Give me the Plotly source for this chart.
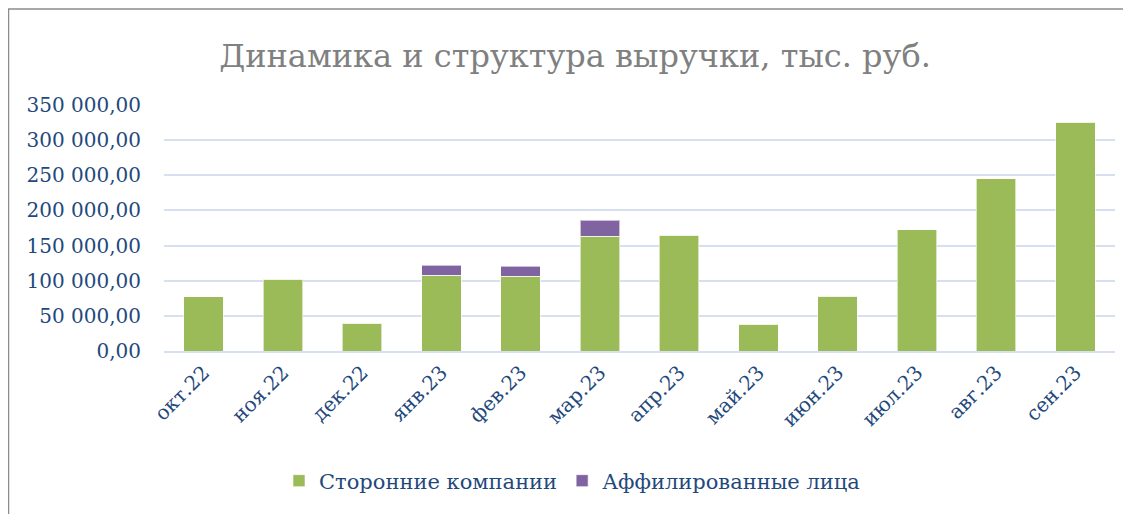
import plotly.graph_objects as go

months = ["окт.22", "ноя.22", "дек.22", "янв.23", "фев.23", "мар.23",
          "апр.23", "май.23", "июн.23", "июл.23", "авг.23", "сен.23"]
third_party = [77200, 102400, 39800, 108100, 106700, 163100,
               165000, 38400, 78200, 172600, 245100, 325700]
affiliated = [0, 0, 0, 14200, 13700, 22800, 0, 0, 0, 0, 0, 0]
y_ticks = [0, 50000, 100000, 150000, 200000, 250000, 300000, 350000]

W, H = 1131, 514
OFF = 8  # page body margin offset
L, R, T, B = 164 - OFF, 16 + OFF, 105 - OFF, 163 + OFF
pw, ph = W - L - R, H - T - B

def px_x(p):
    return (p - OFF - L) / pw

def px_y(p):
    return (H - B - (p - OFF)) / ph

FONT = "DejaVu Serif"
TXT = "#1F497D"

fig = go.Figure()
fig.add_trace(go.Bar(x=months, y=third_party, name="Сторонние компании",
                     marker=dict(color="#9BBB59", line=dict(color="rgba(255,255,255,0.6)", width=1))))
fig.add_trace(go.Bar(x=months, y=affiliated, name="Аффилированные лица",
                     marker=dict(color="#8064A2", line=dict(color="rgba(255,255,255,0.6)", width=1))))

fig.update_layout(
    barmode="stack",
    bargap=0.5,
    width=W, height=H,
    margin=dict(l=L, r=R, t=T, b=B),
    paper_bgcolor="white", plot_bgcolor="white",
    separators=", ",
    font=dict(family=FONT, color=TXT),
    title=dict(text="Динамика и структура выручки, тыс. руб.",
               x=(575 - OFF) / W, xanchor="center", xref="container",
               y=1 - (56 - OFF) / H, yanchor="middle", yref="container",
               font=dict(family=FONT, size=32, color="#808080")),
    showlegend=True,
    legend=dict(orientation="h", x=px_x(572), xanchor="center",
                y=px_y(481), yanchor="middle",
                font=dict(family=FONT, size=21, color=TXT),
                traceorder="normal", itemwidth=30),
    xaxis=dict(tickangle=-45, tickfont=dict(family=FONT, size=20, color=TXT),
               showgrid=False, showline=True, linecolor="#D6E0F0", linewidth=2,
               ticks=""),
    yaxis=dict(range=[0, 350000], tickvals=y_ticks, tickformat=",.2f",
               tickfont=dict(family=FONT, size=20, color=TXT),
               showgrid=True, gridcolor="#D6E0F0", gridwidth=2,
               zeroline=False, showline=False, ticks="", ticklabelstandoff=22),
    shapes=[dict(type="rect", xref="paper", yref="paper",
                 x0=px_x(8.5), x1=px_x(1150), y0=px_y(540), y1=px_y(9),
                 line=dict(color="#8C8C8C", width=1.5), fillcolor="rgba(0,0,0,0)",
                 layer="below")],
)

fig.write_html("out.html")
